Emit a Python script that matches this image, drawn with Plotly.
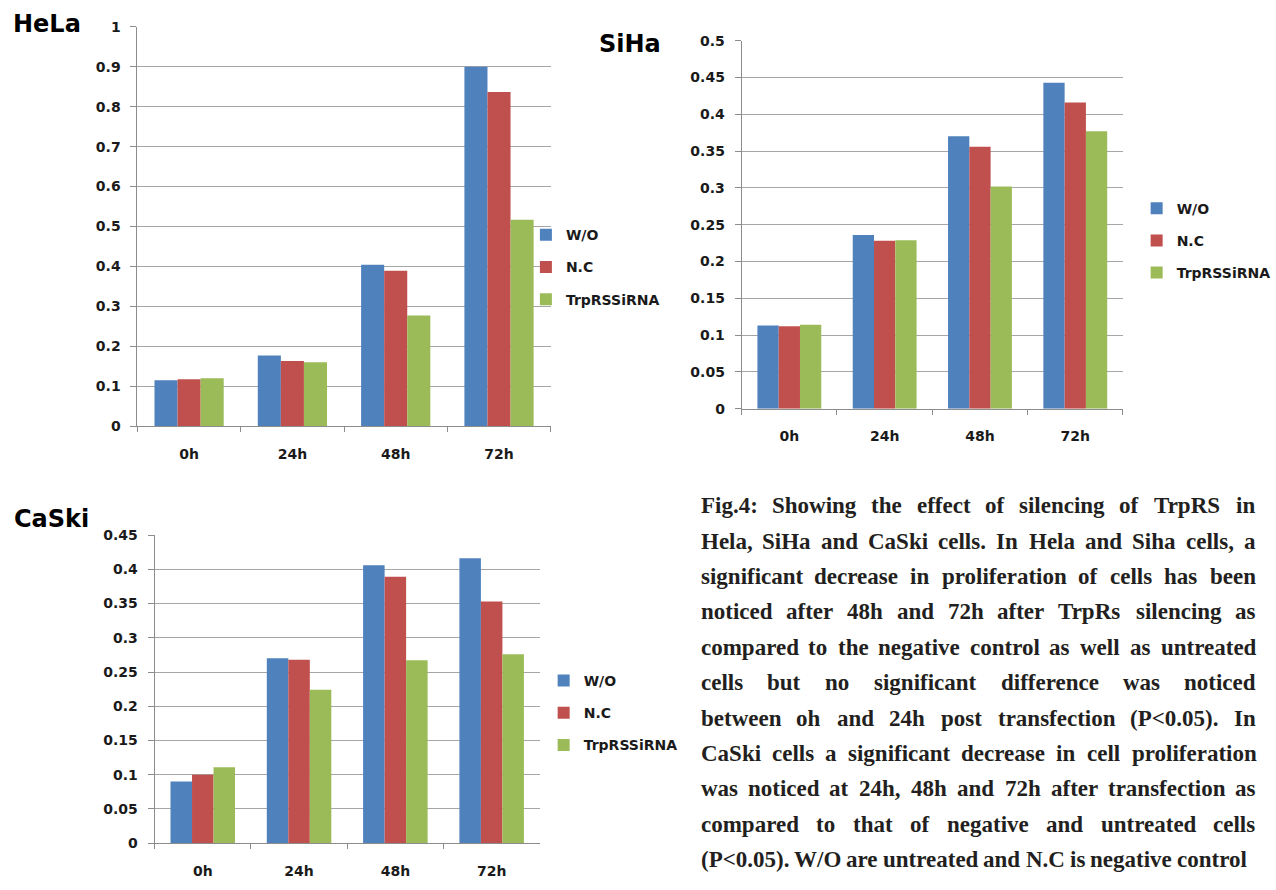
import plotly.graph_objects as go

# ---- data -------------------------------------------------------------
categories = ["0h", "24h", "48h", "72h"]
series_names = ["W/O", "N.C", "TrpRSSiRNA"]
series_colors = ["#4F81BD", "#C0504D", "#9BBB59"]

hela_wo = [0.115, 0.177, 0.404, 0.900]
hela_nc = [0.117, 0.163, 0.389, 0.837]
hela_si = [0.120, 0.160, 0.277, 0.517]

siha_wo = [0.113, 0.236, 0.370, 0.443]
siha_nc = [0.112, 0.228, 0.356, 0.416]
siha_si = [0.114, 0.229, 0.302, 0.377]

caski_wo = [0.090, 0.270, 0.406, 0.416]
caski_nc = [0.100, 0.268, 0.389, 0.353]
caski_si = [0.111, 0.224, 0.267, 0.276]

hela_ticks = [0, 0.1, 0.2, 0.3, 0.4, 0.5, 0.6, 0.7, 0.8, 0.9, 1]
hela_ticktext = ["0", "0.1", "0.2", "0.3", "0.4", "0.5", "0.6", "0.7", "0.8", "0.9", "1"]
siha_ticks = [0, 0.05, 0.1, 0.15, 0.2, 0.25, 0.3, 0.35, 0.4, 0.45, 0.5]
siha_ticktext = ["0", "0.05", "0.1", "0.15", "0.2", "0.25", "0.3", "0.35", "0.4", "0.45", "0.5"]
caski_ticks = [0, 0.05, 0.1, 0.15, 0.2, 0.25, 0.3, 0.35, 0.4, 0.45]
caski_ticktext = ["0", "0.05", "0.1", "0.15", "0.2", "0.25", "0.3", "0.35", "0.4", "0.45"]

caption_lines = [
    "Fig.4: Showing the effect of silencing of TrpRS in",
    "Hela, SiHa and CaSki cells. In Hela and Siha cells, a",
    "significant decrease in proliferation of cells has been",
    "noticed after 48h and 72h after TrpRs silencing as",
    "compared to the negative control as well as untreated",
    "cells but no significant difference was noticed",
    "between oh and 24h post transfection (P<0.05). In",
    "CaSki cells a significant decrease in cell proliferation",
    "was noticed at 24h, 48h and 72h after transfection as",
    "compared to that of negative and untreated cells",
    "(P<0.05). W/O are untreated and N.C is negative control",
]

# ---- page geometry (pixels) -------------------------------------------
W, H = 1276, 890


def fx(x):
    return x / W


def fy(y):
    return 1 - y / H


LABEL_FONT = dict(family="DejaVu Sans", size=14, color="#1a1a1a", weight="bold")
LEGEND_FONT = dict(family="DejaVu Sans", size=14, color="#1a1a1a", weight="bold")
TITLE_FONT = dict(family="DejaVu Sans", size=24, color="#000000", weight="bold")
GRID = "#A6A6A6"
AXIS = "#8C8C8C"

panels = [
    # name, series, axis suffix, legend id, x px span, y px span, y max, ticks
    ("HeLa", [hela_wo, hela_nc, hela_si], "", "legend",
     (139.3, 558.1), (19.3, 425.7), 1.0, hela_ticks, hela_ticktext),
    ("SiHa", [siha_wo, siha_nc, siha_si], "2", "legend2",
     (751.7, 1138.1), (33.3, 408.0), 0.5, siha_ticks, siha_ticktext),
    ("CaSki", [caski_wo, caski_nc, caski_si], "3", "legend3",
     (156.7, 547.1), (536.7, 850.5), 0.45, caski_ticks, caski_ticktext),
]

fig = go.Figure()
layout = dict(
    width=W, height=H,
    margin=dict(l=0, r=0, t=0, b=0),
    paper_bgcolor="white", plot_bgcolor="white",
    barmode="group", bargap=0.33, bargroupgap=0,
    showlegend=True,
)

for name, series, ax, leg, (x0, x1), (y0, y1), ymax, tv, tt in panels:
    for i, vals in enumerate(series):
        fig.add_trace(go.Bar(
            x=categories, y=vals, name=series_names[i],
            marker=dict(color=series_colors[i], line=dict(width=0)),
            xaxis="x" + ax, yaxis="y" + ax,
            legend=leg, legendgroup=name + series_names[i],
            hoverinfo="skip",
        ))
    layout["xaxis" + ax] = dict(
        domain=[fx(x0), fx(x1)], anchor="y" + ax, type="category",
        showline=True, linecolor=AXIS, linewidth=1,
        ticks="outside", tickson="boundaries", ticklen=5, tickcolor=AXIS,
        showgrid=False, tickfont=LABEL_FONT, ticklabelstandoff=15,
        fixedrange=True,
    )
    layout["yaxis" + ax] = dict(
        domain=[fy(y1), fy(y0)], anchor="x" + ax, range=[0, ymax],
        tickvals=tv, ticktext=tt,
        showline=True, linecolor=AXIS, linewidth=1,
        ticks="outside", ticklen=6, tickcolor=AXIS,
        showgrid=True, gridcolor=GRID, gridwidth=1, zeroline=False,
        tickfont=LABEL_FONT, ticklabelstandoff=7, fixedrange=True,
    )

legend_common = dict(
    font=LEGEND_FONT, bgcolor="rgba(0,0,0,0)", borderwidth=0,
    traceorder="grouped", tracegroupgap=11, xanchor="left", yanchor="top",
    itemclick=False, itemdoubleclick=False,
)
layout["legend"] = dict(x=fx(533), y=fy(215), **legend_common)
layout["legend2"] = dict(x=fx(1152), y=fy(188), **legend_common)
layout["legend3"] = dict(x=fx(551), y=fy(669), **legend_common)

annotations = [
    dict(text="HeLa", x=fx(11), y=fy(16)),
    dict(text="SiHa", x=fx(605), y=fy(37)),
    dict(text="CaSki", x=fx(12), y=fy(520)),
]
for a in annotations:
    a.update(xref="paper", yref="paper", xanchor="left", yanchor="middle",
             showarrow=False, font=TITLE_FONT)

# ---- justified caption, laid out word by word -------------------------
TIMES_BOLD = {
    " ": 250, "a": 500, "b": 556, "c": 444, "d": 556, "e": 444, "f": 333,
    "g": 500, "h": 556, "i": 278, "j": 333, "k": 556, "l": 278, "m": 833,
    "n": 556, "o": 500, "p": 556, "q": 556, "r": 444, "s": 389, "t": 333,
    "u": 556, "v": 500, "w": 722, "x": 500, "y": 500, "z": 444,
    "A": 722, "B": 667, "C": 722, "D": 722, "E": 667, "F": 611, "G": 778,
    "H": 778, "I": 389, "J": 500, "K": 778, "L": 667, "M": 944, "N": 722,
    "O": 778, "P": 611, "Q": 778, "R": 722, "S": 556, "T": 667, "U": 722,
    "V": 722, "W": 1000, "X": 722, "Y": 722, "Z": 667,
    "0": 500, "1": 500, "2": 500, "3": 500, "4": 500, "5": 500, "6": 500,
    "7": 500, "8": 500, "9": 500, ".": 250, ",": 250, ":": 333, "(": 333,
    ")": 333, "<": 570, "/": 278,
}
CAP_SIZE = 23
CAP_LEFT, CAP_RIGHT = 708, 1270
CAP_TOP, CAP_STEP = 507, 36
CAP_FONT = dict(family="Liberation Serif", size=CAP_SIZE, color="#231F20", weight="bold")


def word_width(word):
    return sum(TIMES_BOLD.get(c, 500) for c in word) / 1000 * CAP_SIZE


for li, line in enumerate(caption_lines):
    words = line.split(" ")
    widths = [word_width(w) for w in words]
    last = li == len(caption_lines) - 1
    if last or len(words) == 1:
        gap = TIMES_BOLD[" "] / 1000 * CAP_SIZE
    else:
        gap = (CAP_RIGHT - CAP_LEFT - sum(widths)) / (len(words) - 1)
    x = CAP_LEFT
    ypos = CAP_TOP + li * CAP_STEP
    for w, wd in zip(words, widths):
        annotations.append(dict(
            text=w, x=fx(x), y=fy(ypos), xref="paper", yref="paper",
            xanchor="left", yanchor="middle", showarrow=False, font=CAP_FONT,
        ))
        x += wd + gap

layout["annotations"] = annotations
fig.update_layout(**layout)
fig.write_html("out.html", config=dict(displayModeBar=False))
